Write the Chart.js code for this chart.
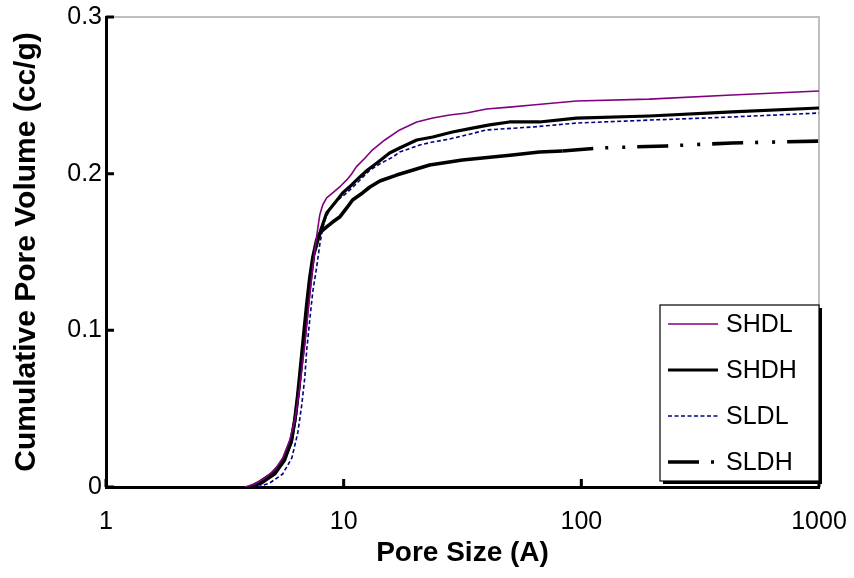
<!DOCTYPE html>
<html><head><meta charset="utf-8">
<script src="https://cdn.jsdelivr.net/npm/chart.js@4/dist/chart.umd.min.js"></script>
<style>html,body{margin:0;padding:0;background:#fff;}#wrap{width:854px;height:578px;}</style>
</head><body><div id="wrap"><canvas id="c" width="854" height="578"></canvas></div>
<script>
// ---- data ----
const seriesNames = ['SHDL', 'SHDH', 'SLDL', 'SLDH'];
const xTickValues = [1, 10, 100, 1000];
const yTickValues = [0, 0.1, 0.2, 0.3];
const xTitle = 'Pore Size (A)';
const yTitle = 'Cumulative Pore Volume (cc/g)';

const shdlSize = [3.84, 4.23, 4.66, 5.13, 5.54, 5.93, 6.23, 6.47, 6.66, 6.86, 7.06, 7.27, 7.48, 7.70, 7.93, 8.16, 8.48, 8.99, 9.62, 10.3, 10.8, 11.3, 12.3, 13.2, 14.9, 17.2, 20.3, 23.7, 27.9, 32.9, 39.9, 49.8, 62.3, 95.3, 193, 431, 1000];
const shdlVol  = [0, .0019, .0057, .0109, .0185, .0300, .0428, .0587, .0747, .0906, .1098, .1289, .1449, .1602, .1736, .1800, .1845, .1877, .1915, .1960, .1998, .2043, .2100, .2151, .2215, .2279, .2330, .2355, .2374, .2387, .2413, .2425, .2438, .2464, .2476, .2502, .2528];

const shdhSize = [4.03, 4.52, 5.13, 5.65, 6.05, 6.28, 6.47, 6.66, 6.86, 7.06, 7.27, 7.48, 7.70, 8.01, 8.48, 9.17, 9.90, 10.8, 11.7, 12.6, 13.8, 15.6, 17.2, 20.3, 23.7, 28.7, 34.8, 41.1, 49.8, 66.6, 95.3, 193, 431, 1000];
const shdhVol  = [0, .0026, .0083, .0172, .0300, .0460, .0619, .0798, .0970, .1162, .1334, .1481, .1545, .1640, .1749, .1813, .1877, .1928, .1979, .2023, .2068, .2132, .2164, .2215, .2234, .2266, .2291, .2311, .2330, .2330, .2355, .2368, .2394, .2419];

const sldlSize = [4.35, 4.89, 5.54, 6.05, 6.41, 6.66, 6.86, 6.99, 7.20, 7.41, 7.70, 7.93, 8.16, 8.40, 8.73, 9.44, 10.3, 11.5, 12.9, 14.4, 16.1, 17.2, 20.9, 23.7, 27.9, 32.9, 39.9, 62.3, 95.3, 193, 431, 1000];
const sldlVol  = [0, .0026, .0083, .0185, .0345, .0523, .0696, .0874, .1066, .1245, .1404, .1545, .1653, .1717, .1768, .1832, .1877, .1947, .2023, .2068, .2106, .2138, .2183, .2202, .2221, .2247, .2279, .2298, .2323, .2342, .2362, .2387];

const sldhSize = [4.03, 4.44, 4.98, 5.54, 5.99, 6.23, 6.41, 6.60, 6.79, 6.99, 7.20, 7.41, 7.70, 8.01, 8.48, 8.99, 9.62, 10.3, 10.9, 12.0, 12.9, 14.2, 16.7, 20.9, 23.0, 31.6, 51.3, 66.6, 83.2, 119, 228, 431, 1000];
const sldhVol  = [0, .0032, .0083, .0160, .0281, .0428, .0587, .0779, .0970, .1162, .1334, .1462, .1577, .1628, .1660, .1691, .1723, .1781, .1832, .1877, .1915, .1953, .1991, .2036, .2055, .2087, .2119, .2138, .2145, .2164, .2177, .2196, .2208];

// ---- styles ----
const FONT = "'Liberation Sans', Arial, sans-serif";
const sldhDash = [31, 12, 3, 14, 3, 12];
const styles = [
  {color: '#800080', width: 1.6, dash: []},
  {color: '#000000', width: 3.2, dash: []},
  {color: '#000080', width: 1.6, dash: [4, 2.5]},
  {color: '#000000', width: 3.6, dash: []}
];

function pts(xs, ys) { return xs.map((x, i) => ({x: x, y: ys[i]})); }
const allData = [pts(shdlSize, shdlVol), pts(shdhSize, shdhVol), pts(sldlSize, sldlVol), pts(sldhSize, sldhVol)];

const datasets = seriesNames.map((name, i) => {
  const ds = {
    label: name,
    data: allData[i],
    borderColor: styles[i].color,
    backgroundColor: styles[i].color,
    borderWidth: styles[i].width,
    borderDash: styles[i].dash,
    pointRadius: 0,
    pointHoverRadius: 0,
    fill: false,
    tension: 0,
    borderJoinStyle: 'round'
  };
  if (name === 'SLDH') {
    ds.segment = { borderDash: ctx => (ctx.p0.parsed.x >= 80 ? sldhDash : undefined) };
  }
  return ds;
});

const frame = {
  id: 'frame',
  beforeDatasetsDraw(chart) {
    const {ctx, chartArea: a} = chart;
    ctx.save();
    ctx.strokeStyle = '#bfbfbf';
    ctx.lineWidth = 2;
    ctx.beginPath();
    ctx.moveTo(a.left, a.top); ctx.lineTo(a.right, a.top); ctx.lineTo(a.right, a.bottom);
    ctx.stroke();
    ctx.restore();
  },
  afterDatasetsDraw(chart) {
    const {ctx, chartArea: a, scales} = chart;
    ctx.save();
    ctx.strokeStyle = '#000';
    ctx.lineWidth = 3;
    ctx.beginPath();
    yTickValues.forEach(v => {
      const py = scales.y.getPixelForValue(v);
      ctx.moveTo(a.left, py); ctx.lineTo(a.left + 8, py);
    });
    xTickValues.forEach(v => {
      const px = scales.x.getPixelForValue(v);
      ctx.moveTo(px, a.bottom); ctx.lineTo(px, a.bottom - 8);
    });
    ctx.stroke();
    ctx.restore();
  },
  afterDraw(chart) {
    const ctx = chart.ctx;
    const bx = 660, by = 305, bw = 159, bh = 176;
    ctx.save();
    ctx.fillStyle = '#000';
    ctx.fillRect(bx + 3, by + 3, bw, bh);
    ctx.fillStyle = '#fff';
    ctx.fillRect(bx, by, bw, bh);
    ctx.strokeStyle = '#000';
    ctx.lineWidth = 1.2;
    ctx.strokeRect(bx, by, bw, bh);
    chart.data.datasets.forEach((ds, i) => {
      const cy = by + 19 + i * 46;
      ctx.beginPath();
      ctx.strokeStyle = ds.borderColor;
      ctx.lineWidth = ds.borderWidth;
      ctx.setLineDash(ds.label === 'SLDH' ? sldhDash : ds.borderDash);
      ctx.moveTo(bx + 8, cy); ctx.lineTo(bx + 58, cy);
      ctx.stroke();
      ctx.setLineDash([]);
      ctx.fillStyle = '#000';
      ctx.font = '25px ' + FONT;
      ctx.textBaseline = 'middle';
      ctx.textAlign = 'left';
      ctx.fillText(ds.label, bx + 66, cy + 1);
    });
    ctx.restore();
  }
};

new Chart(document.getElementById('c'), {
  type: 'line',
  data: { datasets: datasets },
  options: {
    responsive: false,
    devicePixelRatio: 1,
    animation: false,
    events: [],
    layout: { padding: { top: 17, right: 35, left: 0, bottom: 0 } },
    plugins: { legend: { display: false }, tooltip: { enabled: false } },
    scales: {
      x: {
        type: 'logarithmic',
        min: 1, max: 1000,
        afterBuildTicks: s => { s.ticks = xTickValues.map(v => ({value: v})); },
        afterFit: s => { s.height = 91; s.paddingRight = 0; s.paddingLeft = 0; },
        grid: { display: false, drawTicks: false },
        border: { display: true, color: '#000', width: 3 },
        ticks: { callback: v => String(v), color: '#000', font: { family: FONT, size: 25 }, padding: 20, maxRotation: 0, autoSkip: false },
        title: { display: true, text: xTitle, color: '#000', font: { family: FONT, size: 28, weight: 'bold' }, padding: { top: 8, bottom: 8 } }
      },
      y: {
        type: 'linear',
        min: 0, max: 0.3,
        afterBuildTicks: s => { s.ticks = yTickValues.map(v => ({value: v})); },
        afterFit: s => { s.width = 106; s.paddingTop = 0; s.paddingBottom = 0; },
        grid: { display: false, drawTicks: false },
        border: { display: true, color: '#000', width: 3 },
        ticks: { callback: v => (v === 0 ? '0' : v.toFixed(1)), color: '#000', font: { family: FONT, size: 25 }, padding: 4 },
        title: { display: true, text: yTitle, color: '#000', font: { family: FONT, size: 30, weight: 'bold' }, padding: { top: 9, bottom: 9 } }
      }
    }
  },
  plugins: [frame]
});
</script></body></html>
